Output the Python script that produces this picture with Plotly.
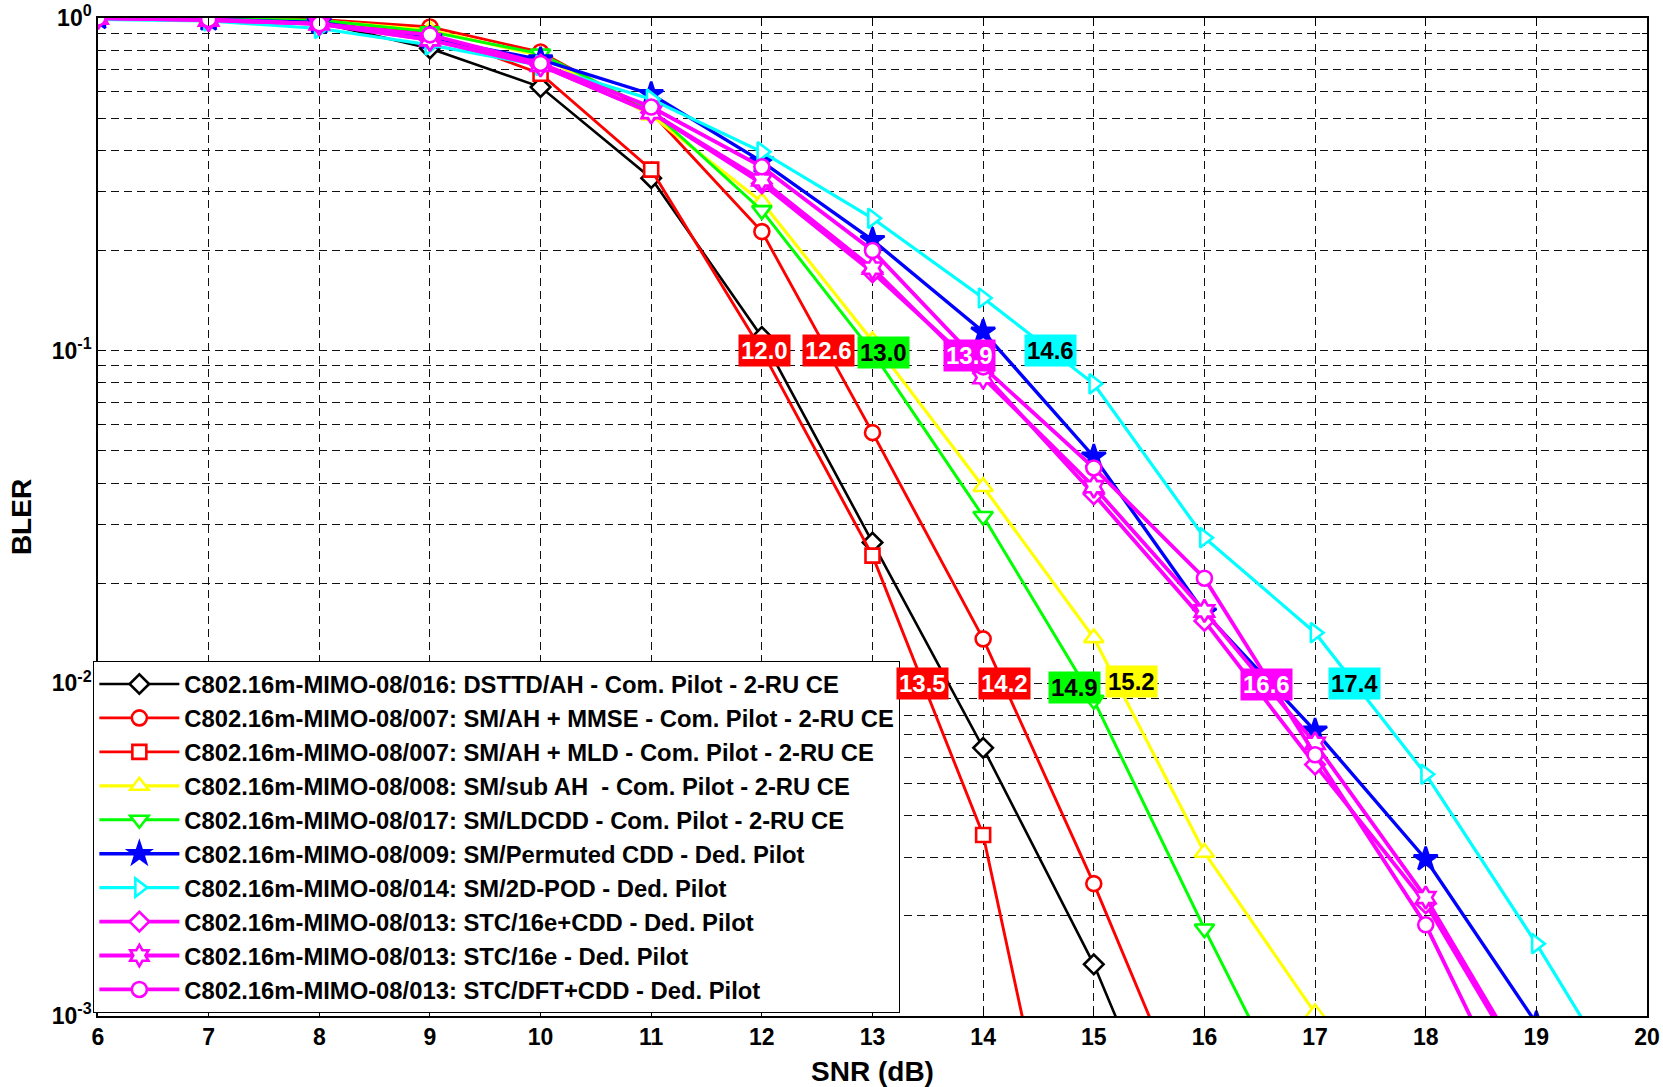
import math
import plotly.graph_objects as go

# ---------------- data ----------------
snr = [6, 7, 8, 9, 10, 11, 12, 13, 14, 15, 16, 17, 18, 19, 20]

names = [
    "C802.16m-MIMO-08/016: DSTTD/AH - Com. Pilot - 2-RU CE",
    "C802.16m-MIMO-08/007: SM/AH + MMSE - Com. Pilot - 2-RU CE",
    "C802.16m-MIMO-08/007: SM/AH + MLD - Com. Pilot - 2-RU CE",
    "C802.16m-MIMO-08/008: SM/sub AH  - Com. Pilot - 2-RU CE",
    "C802.16m-MIMO-08/017: SM/LDCDD - Com. Pilot - 2-RU CE",
    "C802.16m-MIMO-08/009: SM/Permuted CDD - Ded. Pilot",
    "C802.16m-MIMO-08/014: SM/2D-POD - Ded. Pilot",
    "C802.16m-MIMO-08/013: STC/16e+CDD - Ded. Pilot",
    "C802.16m-MIMO-08/013: STC/16e - Ded. Pilot",
    "C802.16m-MIMO-08/013: STC/DFT+CDD - Ded. Pilot",
]

bler_dsttd = [1.0, 0.99, 0.97, 0.81, 0.62, 0.33, 0.11, 0.0265, 0.0064, 0.00143, 0.00023]
bler_sm_mmse = [1.0, 0.995, 0.99, 0.94, 0.79, 0.52, 0.228, 0.0567, 0.0136, 0.0025, 0.0004]
bler_sm_mld = [1.0, 0.99, 0.98, 0.9, 0.68, 0.35, 0.1, 0.0242, 0.0035, 0.0001]
bler_sub_ah = [1.0, 0.995, 0.98, 0.92, 0.77, 0.51, 0.28, 0.107, 0.039, 0.0137, 0.0031, 0.00102]
bler_ldcdd = [1.0, 0.995, 0.985, 0.91, 0.78, 0.53, 0.264, 0.099, 0.0318, 0.0089, 0.00183, 0.0004]
bler_pcdd = [1.0, 0.99, 0.97, 0.87, 0.75, 0.59, 0.37, 0.215, 0.114, 0.048, 0.0163, 0.0072, 0.00296, 0.00095]
bler_2dpod = [0.99, 0.98, 0.93, 0.83, 0.72, 0.57, 0.396, 0.25, 0.144, 0.0795, 0.0274, 0.0142, 0.00533, 0.00165, 0.00047]
bler_stc_cdd = [1.0, 0.985, 0.96, 0.86, 0.72, 0.52, 0.318, 0.172, 0.0855, 0.037, 0.0154, 0.0057, 0.00218, 0.0006]
bler_stc_16e = [1.0, 0.985, 0.96, 0.86, 0.72, 0.52, 0.326, 0.177, 0.083, 0.039, 0.0165, 0.0066, 0.00227, 0.00062]
bler_stc_dft = [1.0, 0.99, 0.96, 0.89, 0.73, 0.54, 0.357, 0.2, 0.0894, 0.0444, 0.0207, 0.0061, 0.00188, 0.00039]

all_bler = [bler_dsttd, bler_sm_mmse, bler_sm_mld, bler_sub_ah, bler_ldcdd,
            bler_pcdd, bler_2dpod, bler_stc_cdd, bler_stc_16e, bler_stc_dft]

colors = ["#000000", "#ff0000", "#ff0000", "#ffff00", "#00ff00",
          "#0000ff", "#00ffff", "#ff00ff", "#ff00ff", "#ff00ff"]
symbols = ["diamond", "circle", "square", "triangle-up", "triangle-down",
           "star", "triangle-right", "diamond", "hexagram", "circle"]
fills = ["white", "white", "white", "white", "white",
         "#0000ff", "white", "white", "white", "white"]
line_widths = [2.6, 2.9, 2.9, 3.2, 3.0, 3.4, 3.2, 3.8, 3.8, 3.8]
marker_sizes = [15, 15, 14, 17, 17, 18, 17, 15, 17, 15]

# SNR (dB) labels at BLER = 0.1 and 0.01
label_text = ["12.0", "12.6", "13.0", "13.9", "14.6",
              "13.5", "14.2", "14.9", "15.2", "16.6", "17.4"]
label_x = [12.02, 12.60, 13.10, 13.88, 14.61,
           13.45, 14.19, 14.83, 15.34, 16.56, 17.36]
label_y = [0.1, 0.1, 0.099, 0.097, 0.1,
           0.01, 0.01, 0.0097, 0.0101, 0.0099, 0.01]
label_bg = ["#ff0000", "#ff0000", "#00ff00", "#ff00ff", "#00ffff",
            "#ff0000", "#ff0000", "#00ff00", "#ffff00", "#ff00ff", "#00ffff"]
label_fg = ["white", "white", "black", "white", "black",
            "white", "white", "black", "black", "white", "black"]

y_tickvals = [1, 0.1, 0.01, 0.001]
y_ticktext = ["10<sup>0</sup>", "10<sup>-1</sup>", "10<sup>-2</sup>", "10<sup>-3</sup>"]

# ---------------- figure ----------------
FONT = "Liberation Sans, Arial, sans-serif"
fig = go.Figure()

for name, vals, c, sym, fc, lw, ms in zip(names, all_bler, colors, symbols, fills,
                                          line_widths, marker_sizes):
    fig.add_trace(go.Scatter(
        x=snr[:len(vals)], y=vals, name=name, mode="lines+markers",
        line=dict(color=c, width=lw),
        marker=dict(symbol=sym, size=ms, color=fc, line=dict(color=c, width=2.6)),
        cliponaxis=True,
    ))

for t, x, y, bg, fg in zip(label_text, label_x, label_y, label_bg, label_fg):
    fig.add_annotation(
        x=x, y=math.log10(y), xref="x", yref="y", text=t, showarrow=False,
        bgcolor=bg, borderpad=2,
        font=dict(family=FONT, size=24, color=fg, weight="bold"),
    )

minor_y = [k * 10.0 ** d for d in (-3, -2, -1) for k in range(2, 10)]

fig.update_layout(
    width=1663, height=1087,
    margin=dict(l=98, r=16, t=18, b=71, autoexpand=False),
    paper_bgcolor="white", plot_bgcolor="white",
    font=dict(family=FONT, size=23, color="black", weight="bold"),
    showlegend=True,
    legend=dict(
        x=-0.003, y=0.3557, xanchor="left", yanchor="top",
        bgcolor="white", bordercolor="black", borderwidth=1,
        font=dict(family=FONT, size=23.8, color="black", weight="bold"),
        itemwidth=80, tracegroupgap=0,
    ),
    xaxis=dict(
        range=[6, 20], tickmode="array", tickvals=snr, automargin=False,
        title=dict(text="SNR (dB)", font=dict(size=28, weight="bold"), standoff=13),
        showline=True, linecolor="black", linewidth=1.5, mirror="ticks",
        ticks="inside", ticklen=8, tickcolor="black",
        showgrid=True, gridcolor="#111111", gridwidth=1, griddash="8px,5px",
        zeroline=False, tickfont=dict(size=23, weight="bold"),
    ),
    yaxis=dict(
        type="log", range=[-3, 0], tickmode="array", automargin=False,
        tickvals=y_tickvals, ticktext=y_ticktext,
        title=dict(text="BLER", font=dict(size=28, weight="bold"), standoff=12),
        showline=True, linecolor="black", linewidth=1.5, mirror="ticks",
        ticks="inside", ticklen=8, tickcolor="black",
        showgrid=True, gridcolor="#111111", gridwidth=1, griddash="8px,5px",
        zeroline=False, tickfont=dict(size=23, weight="bold"),
        minor=dict(tickmode="array", tickvals=minor_y, showgrid=True,
                   gridcolor="#111111", gridwidth=1, griddash="8px,5px",
                   ticks="inside", ticklen=5, tickcolor="black"),
    ),
)

fig.write_html("out.html")
